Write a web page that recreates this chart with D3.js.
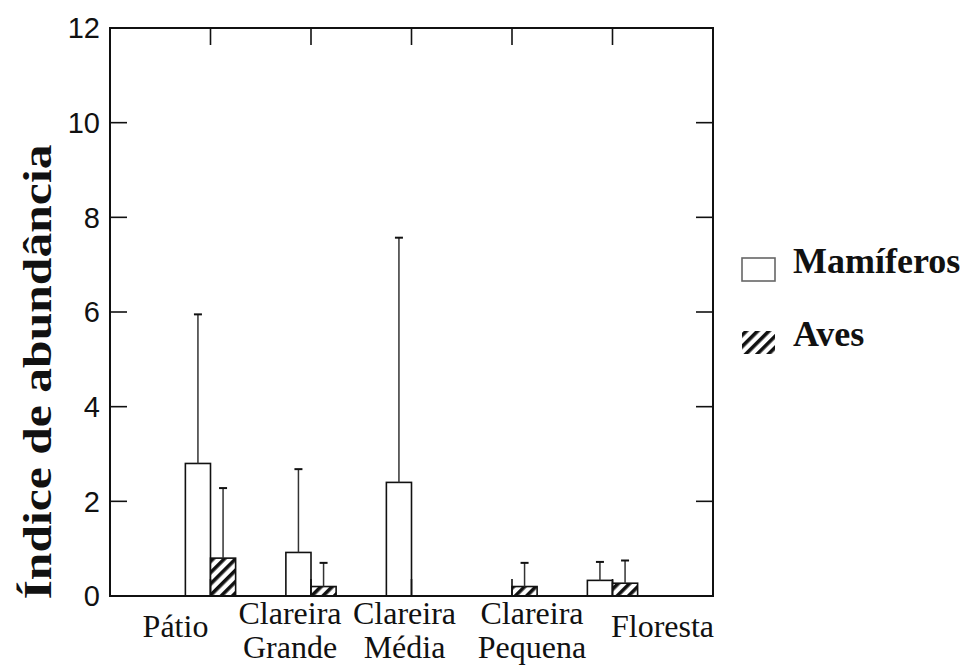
<!DOCTYPE html>
<html>
<head>
<meta charset="utf-8">
<script src="https://cdn.jsdelivr.net/npm/d3@7/dist/d3.min.js"></script>
<style>
  html, body { margin: 0; padding: 0; background: #fff; }
  svg { display: block; }
</style>
</head>
<body>
<svg id="chart" width="971" height="665"></svg>
<script>
// Abundance index per habitat, mammals vs birds (mean and upper error limit)
const categories = [["Pátio"], ["Clareira", "Grande"], ["Clareira", "Média"], ["Clareira", "Pequena"], ["Floresta"]];
const seriesNames = ["Mamíferos", "Aves"];
const mamiferos = [2.8, 0.92, 2.4, 0, 0.33];
const mamiferosUpper = [5.95, 2.68, 7.57, 0, 0.72];
const aves = [0.8, 0.2, 0, 0.2, 0.27];
const avesUpper = [2.28, 0.7, 0, 0.7, 0.75];
const yTicks = [0, 2, 4, 6, 8, 10, 12];

const svg = d3.select("#chart");

// Plot frame
const plotLeft = 110, plotRight = 713, plotTop = 28, plotBottom = 596;
const x = d3.scaleLinear().domain([0, categories.length + 1]).range([plotLeft, plotRight]);
const y = d3.scaleLinear().domain([0, 12]).range([plotBottom, plotTop]);
const barW = 0.25;
const tickLen = 17;

// Hatch pattern for the bird series
const defs = svg.append("defs");
const pat = defs.append("pattern")
  .attr("id", "hatch")
  .attr("patternUnits", "userSpaceOnUse")
  .attr("width", 8).attr("height", 8)
  .attr("patternTransform", "rotate(45)");
pat.append("rect").attr("width", 8).attr("height", 8).attr("fill", "#fff");
pat.append("rect").attr("x", 0).attr("y", 0).attr("width", 3.6).attr("height", 8).attr("fill", "#111");

// Bars
const series = [
  { name: seriesNames[0], values: mamiferos, upper: mamiferosUpper, offset: -barW, fill: "#fff" },
  { name: seriesNames[1], values: aves, upper: avesUpper, offset: 0, fill: "url(#hatch)" }
];

const gBars = svg.append("g");
series.forEach(s => {
  const g = gBars.append("g");
  g.selectAll("rect")
    .data(s.values)
    .join("rect")
    .attr("x", (d, i) => x(i + 1 + s.offset))
    .attr("width", x(barW) - x(0))
    .attr("y", d => y(d))
    .attr("height", d => y(0) - y(d))
    .attr("fill", s.fill)
    .attr("stroke", "#111")
    .attr("stroke-width", 1.6);

  // Error bars (upper only)
  const eb = g.selectAll("g.err")
    .data(s.values.map((d, i) => ({ i, v: d, u: s.upper[i] })).filter(e => e.u > e.v))
    .join("g").attr("class", "err");
  eb.append("line")
    .attr("x1", e => x(e.i + 1 + s.offset + barW / 2))
    .attr("x2", e => x(e.i + 1 + s.offset + barW / 2))
    .attr("y1", e => y(e.v))
    .attr("y2", e => y(e.u))
    .attr("stroke", "#333").attr("stroke-width", 1.5);
  eb.append("line")
    .attr("x1", e => x(e.i + 1 + s.offset + barW / 2) - 4)
    .attr("x2", e => x(e.i + 1 + s.offset + barW / 2) + 4)
    .attr("y1", e => y(e.u))
    .attr("y2", e => y(e.u))
    .attr("stroke", "#111").attr("stroke-width", 2);
});

// Frame
svg.append("rect")
  .attr("x", plotLeft).attr("y", plotTop)
  .attr("width", plotRight - plotLeft).attr("height", plotBottom - plotTop)
  .attr("fill", "none").attr("stroke", "#111").attr("stroke-width", 2);

// Inward ticks on all four sides
const ticks = svg.append("g").attr("stroke", "#111").attr("stroke-width", 1.6);
yTicks.forEach(t => {
  ticks.append("line").attr("x1", plotLeft).attr("x2", plotLeft + tickLen).attr("y1", y(t)).attr("y2", y(t));
  ticks.append("line").attr("x1", plotRight - tickLen).attr("x2", plotRight).attr("y1", y(t)).attr("y2", y(t));
});
categories.forEach((c, i) => {
  ticks.append("line").attr("x1", x(i + 1)).attr("x2", x(i + 1)).attr("y1", plotTop).attr("y2", plotTop + tickLen);
  ticks.append("line").attr("x1", x(i + 1)).attr("x2", x(i + 1)).attr("y1", plotBottom).attr("y2", plotBottom - tickLen);
});

// Y tick labels
svg.append("g").selectAll("text")
  .data(yTicks)
  .join("text")
  .attr("x", 100)
  .attr("y", d => y(d))
  .attr("dy", "0.36em")
  .attr("text-anchor", "end")
  .attr("font-family", "'Liberation Sans', Arial, sans-serif")
  .attr("font-size", 29)
  .attr("fill", "#111")
  .text(d => d);

// Category labels (hand-nudged horizontally, as laid out on the page)
const labelNudge = [-35, -21, -7, 20, 50];
const catText = svg.append("g").selectAll("text")
  .data(categories)
  .join("text")
  .attr("text-anchor", "middle")
  .attr("font-family", "'Liberation Serif', 'Times New Roman', serif")
  .attr("font-size", 32)
  .attr("fill", "#111")
  .attr("transform", (d, i) => `translate(${x(i + 1) + labelNudge[i]},${d.length === 1 ? 637 : 624})`);
catText.selectAll("tspan")
  .data(d => d)
  .join("tspan")
  .attr("x", 0)
  .attr("dy", (d, j) => j === 0 ? 0 : 34)
  .text(d => d);

// Y axis title
svg.append("text")
  .attr("transform", "translate(51,372) rotate(-90)")
  .attr("text-anchor", "middle")
  .attr("font-family", "'Liberation Serif', 'Times New Roman', serif")
  .attr("font-weight", "bold")
  .attr("font-size", 41)
  .attr("fill", "#111")
  .attr("textLength", 455)
  .attr("lengthAdjust", "spacingAndGlyphs")
  .text("Índice de abundância");

// Legend
const legend = svg.append("g");
const legendRows = [
  { name: seriesNames[0], fill: "#fff", stroke: "#666", y: 258, ty: 273 },
  { name: seriesNames[1], fill: "url(#hatch)", stroke: "none", y: 331, ty: 346 }
];
legendRows.forEach(r => {
  legend.append("rect")
    .attr("x", 742).attr("y", r.y).attr("width", 33).attr("height", 23)
    .attr("fill", r.fill).attr("stroke", r.stroke).attr("stroke-width", 1.6);
  legend.append("text")
    .attr("x", 793).attr("y", r.ty)
    .attr("font-family", "'Liberation Serif', 'Times New Roman', serif")
    .attr("font-weight", "bold")
    .attr("font-size", 36)
    .attr("fill", "#111")
    .text(r.name);
});
</script>
</body>
</html>
